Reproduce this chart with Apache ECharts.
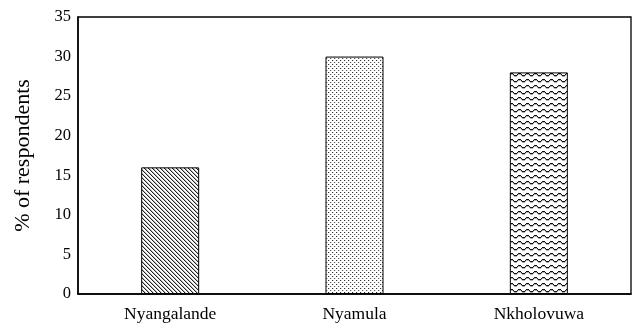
<!DOCTYPE html>
<html>
<head>
<meta charset="utf-8">
<script src="https://cdn.jsdelivr.net/npm/echarts@6/dist/echarts.min.js"></script>
<style>html,body{margin:0;padding:0;background:#fff}#c{width:633px;height:330px}</style>
</head>
<body>
<div id="c"></div>
<script>
const categories = ['Nyangalande', 'Nyamula', 'Nkholovuwa'];
const values = [16, 30, 28];
const yTicks = [0, 5, 10, 15, 20, 25, 30, 35];
const yTitle = '% of respondents';

function tile(w, h, draw) {
  const c = document.createElement('canvas');
  c.width = w; c.height = h;
  const g = c.getContext('2d');
  g.fillStyle = '#fff'; g.fillRect(0, 0, w, h);
  draw(g);
  return c;
}
function px(g, x, y, col) { g.fillStyle = col; g.fillRect(x, y, 1, 1); }

const hatch = tile(4, 4, g => {
  for (let i = 0; i < 4; i++) {
    px(g, i, i, '#222');
    px(g, (i + 1) % 4, i, '#b8b8b8');
  }
});
const dots = tile(4, 4, g => {
  px(g, 0, 0, '#333');
  px(g, 2, 2, '#555');
  px(g, 1, 0, '#d8d8d8');
  px(g, 3, 2, '#d8d8d8');
});
const waves = tile(8, 6, g => {
  const ys = [0, 1, 2, 2, 2, 1, 0, 0];
  for (let x = 0; x < 8; x++) {
    px(g, x, ys[x] + 1, '#111');
    px(g, x, ys[x] + 2, '#b0b0b0');
  }
});
const patterns = [hatch, dots, waves];

const chart = echarts.init(document.getElementById('c'), null, {renderer: 'canvas'});
chart.setOption({
  animation: false,
  backgroundColor: '#fff',
  grid: {left: 78, right: 2, top: 17, bottom: 36, show: true, borderColor: '#000', borderWidth: 1.3, backgroundColor: 'transparent'},
  xAxis: {
    type: 'category',
    data: categories,
    axisLine: {lineStyle: {color: '#000', width: 1.5}},
    axisTick: {show: false},
    axisLabel: {color: '#000', fontFamily: 'Liberation Serif', fontSize: 17.5, margin: 11}
  },
  yAxis: {
    type: 'value',
    min: 0, max: 35, interval: 5,
    name: yTitle,
    nameLocation: 'middle',
    nameGap: 44,
    nameTextStyle: {color: '#000', fontFamily: 'Liberation Serif', fontSize: 22},
    splitLine: {show: false},
    axisLine: {show: true, lineStyle: {color: '#000', width: 1.5}},
    axisTick: {show: false},
    axisLabel: {color: '#000', fontFamily: 'Liberation Serif', fontSize: 16.5, margin: 7,
      formatter: v => yTicks.includes(v) ? String(v) : ''}
  },
  series: [{
    type: 'bar',
    barWidth: 58,
    data: values.map((v, i) => ({
      value: v,
      itemStyle: {color: {image: patterns[i], repeat: 'repeat'}, borderColor: '#000', borderWidth: 1}
    }))
  }]
});
</script>
</body>
</html>
